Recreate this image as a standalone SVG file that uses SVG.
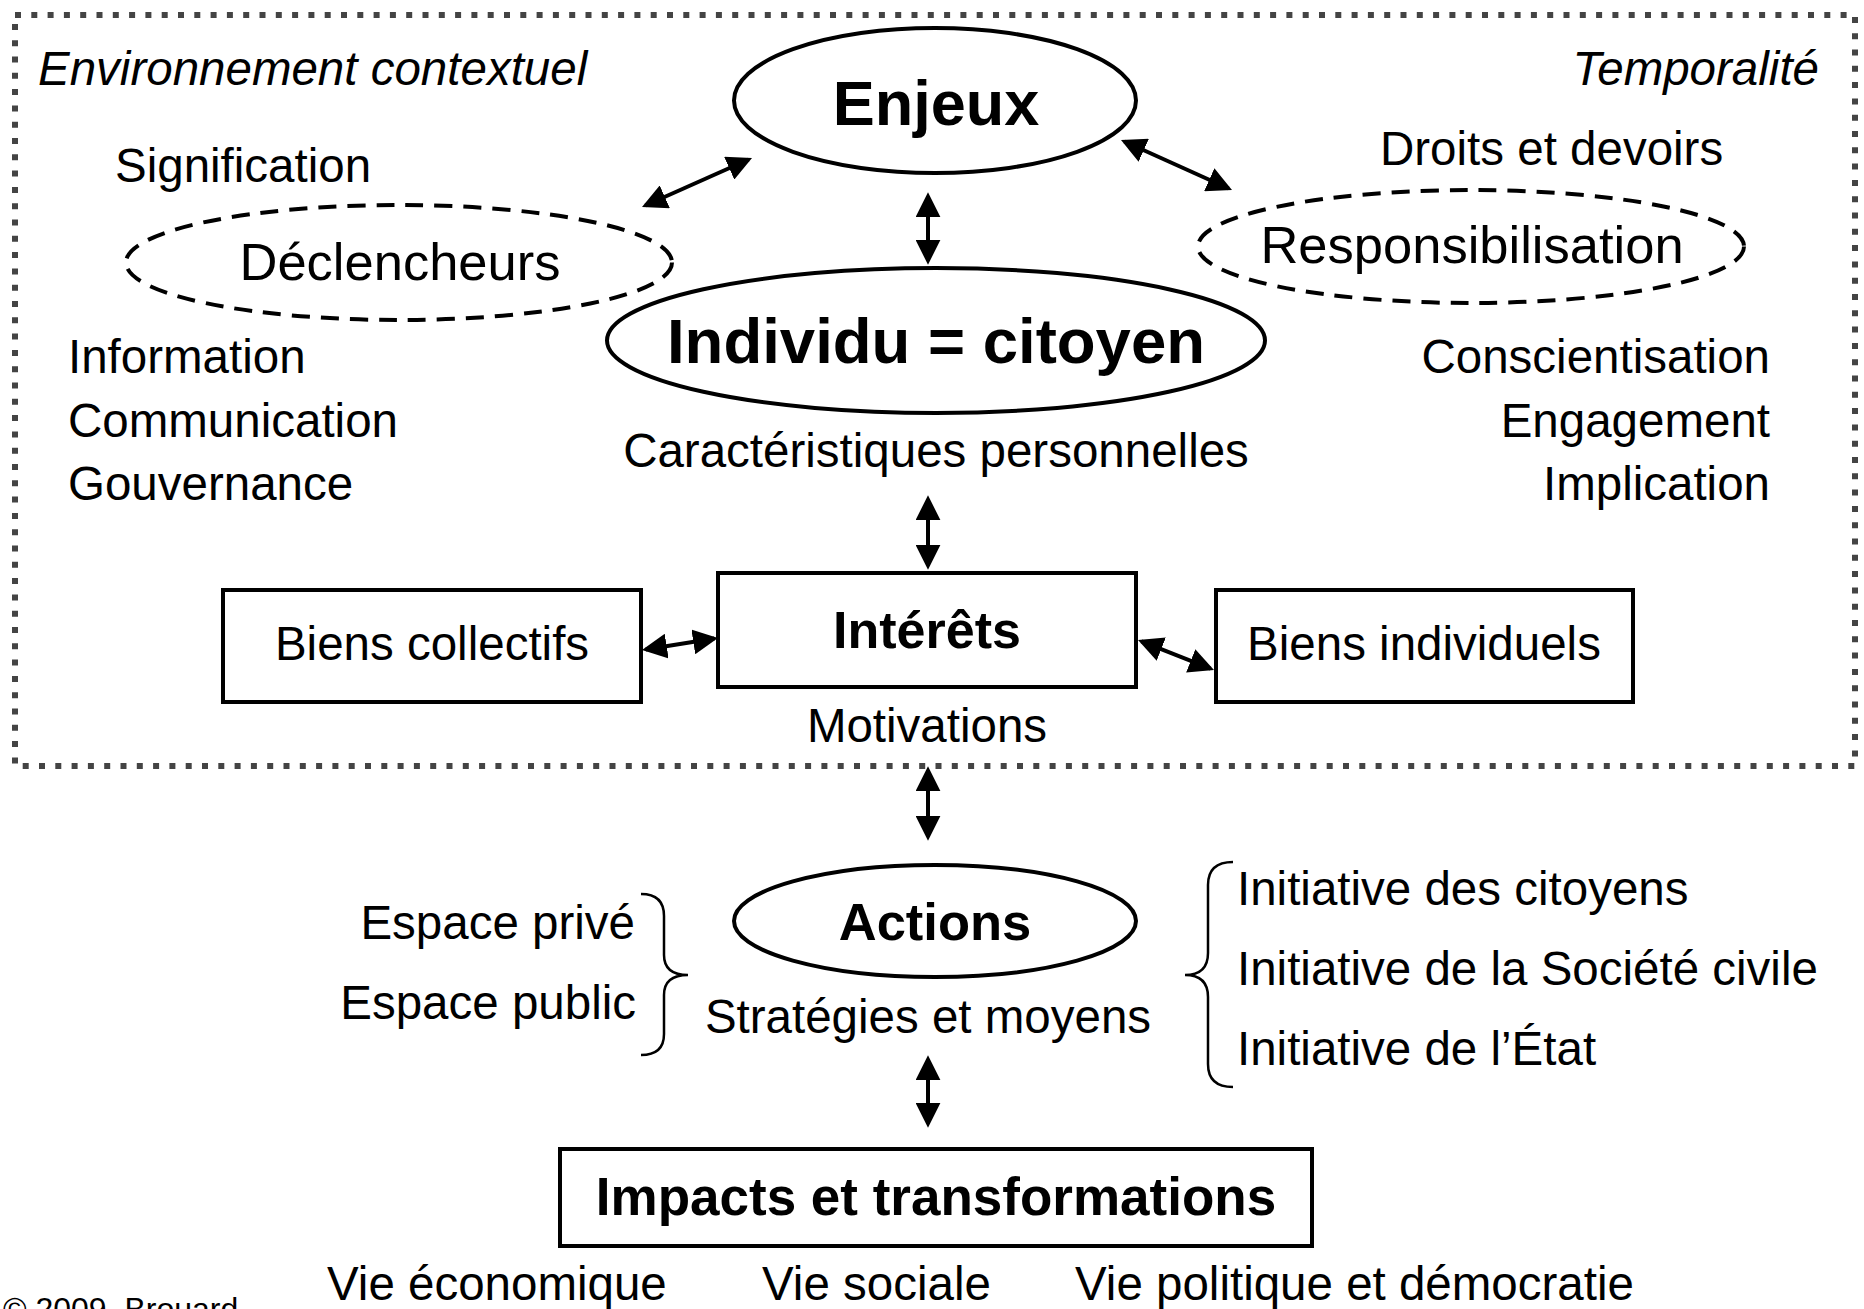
<svg xmlns="http://www.w3.org/2000/svg" width="1864" height="1309" viewBox="0 0 1864 1309">
<style>
  text { font-family: "Liberation Sans", Arial, sans-serif; fill: #000; }
  .t { font-size: 47.5px; }
  .it { font-size: 47.5px; font-style: italic; }
  .lbl { font-size: 52.5px; }
  .b { font-weight: bold; }
  .mid { text-anchor: middle; }
  .end { text-anchor: end; }
  .frame { fill: none; stroke: #444; stroke-width: 6; stroke-dasharray: 6 10.3; }
  .solid { fill: #fff; stroke: #000; stroke-width: 4; }
  .dash { fill: none; stroke: #000; stroke-width: 4; stroke-dasharray: 18 11; }
  .conn { stroke: #000; stroke-width: 4; fill: none; marker-start: url(#ah); marker-end: url(#ah); }
  .brace { fill: none; stroke: #000; stroke-width: 2.5; }
</style>
<defs>
  <marker id="ah" viewBox="0 0 10 10" refX="8.5" refY="5" markerWidth="25" markerHeight="25" markerUnits="userSpaceOnUse" orient="auto-start-reverse">
    <path d="M0,0 L10,5 L0,10 z" fill="#000"/>
  </marker>
</defs>
<rect width="1864" height="1309" fill="#fff"/>

<g id="contexte">
  <rect class="frame" x="15" y="15" width="1840" height="751"/>
  <text class="it" x="38" y="85">Environnement contextuel</text>
  <text class="it end" x="1819" y="85">Temporalité</text>
</g>

<g id="connecteurs">
  <line class="conn" x1="928" y1="196" x2="928" y2="261"/>
  <line class="conn" x1="928" y1="499" x2="928" y2="566"/>
  <line class="conn" x1="928" y1="770" x2="928" y2="837"/>
  <line class="conn" x1="928" y1="1059" x2="928" y2="1124"/>
  <line class="conn" x1="645.4" y1="205.5" x2="748.6" y2="159.5"/>
  <line class="conn" x1="1124.4" y1="141.5" x2="1228.6" y2="188.5"/>
  <line class="conn" x1="645.7" y1="649.4" x2="714.3" y2="638.6"/>
  <line class="conn" x1="1141.5" y1="641.4" x2="1210.5" y2="668.6"/>
</g>

<g id="enjeux">
  <ellipse class="solid" cx="935" cy="100.5" rx="201" ry="72.5" stroke-width="3.5"/>
  <text class="b mid" x="936" y="125" style="font-size:63px">Enjeux</text>
</g>

<g id="declencheurs">
  <text class="t" x="115" y="182">Signification</text>
  <ellipse class="dash" cx="399" cy="262.5" rx="273" ry="57.5"/>
  <text class="lbl mid" x="400" y="280">Déclencheurs</text>
  <text class="t" x="68" y="373">Information</text>
  <text class="t" x="68" y="437">Communication</text>
  <text class="t" x="68" y="500">Gouvernance</text>
</g>

<g id="responsabilisation">
  <text class="t" x="1380" y="165">Droits et devoirs</text>
  <ellipse class="dash" cx="1471" cy="246.5" rx="273" ry="56.5"/>
  <text class="lbl mid" x="1472" y="263">Responsibilisation</text>
  <text class="t end" x="1770" y="373">Conscientisation</text>
  <text class="t end" x="1770" y="437">Engagement</text>
  <text class="t end" x="1770" y="500">Implication</text>
</g>

<g id="individu">
  <ellipse class="solid" cx="936" cy="340.5" rx="329" ry="72.5" stroke-width="6"/>
  <text class="b mid" x="936" y="363" style="font-size:63.5px">Individu = citoyen</text>
  <text class="t mid" x="936" y="467">Caractéristiques personnelles</text>
</g>

<g id="interets">
  <rect class="solid" x="718" y="573" width="418" height="114"/>
  <text class="b mid" x="927" y="648" style="font-size:52px">Intérêts</text>
  <text class="t mid" x="927" y="742">Motivations</text>
</g>

<g id="biens-collectifs">
  <rect class="solid" x="223" y="590" width="418" height="112"/>
  <text class="t mid" x="432" y="660">Biens collectifs</text>
</g>

<g id="biens-individuels">
  <rect class="solid" x="1216" y="590" width="417" height="112"/>
  <text class="t mid" x="1424" y="660">Biens individuels</text>
</g>

<g id="actions">
  <ellipse class="solid" cx="935" cy="921" rx="201" ry="56" stroke-width="3.5"/>
  <text class="b mid" x="935" y="940" style="font-size:52.5px">Actions</text>
  <text class="t mid" x="928" y="1033">Stratégies et moyens</text>
</g>

<g id="espaces">
  <text class="t end" x="635" y="939">Espace privé</text>
  <text class="t end" x="636" y="1019">Espace public</text>
  <path class="brace" d="M641,894 Q664,894 664,916 L664,955 Q664,975 688,975 Q664,975 664,995 L664,1034 Q664,1055 641,1055"/>
</g>

<g id="initiatives">
  <path class="brace" d="M1233,862 Q1208,862 1208,885 L1208,953 Q1208,975 1185,975 Q1208,975 1208,997 L1208,1064 Q1208,1087 1233,1087"/>
  <text class="t" x="1237" y="905">Initiative des citoyens</text>
  <text class="t" x="1237" y="985">Initiative de la Société civile</text>
  <text class="t" x="1237" y="1065">Initiative de l’État</text>
</g>

<g id="impacts">
  <rect class="solid" x="560" y="1149" width="752" height="97"/>
  <text class="b mid" x="936" y="1215" style="font-size:53px">Impacts et transformations</text>
  <text class="t" x="327" y="1300">Vie économique</text>
  <text class="t" x="762" y="1300">Vie sociale</text>
  <text class="t" x="1075" y="1300">Vie politique et démocratie</text>
</g>

<g id="copyright">
  <text x="3" y="1320" style="font-size:32px">© 2009, Brouard</text>
</g>
</svg>
